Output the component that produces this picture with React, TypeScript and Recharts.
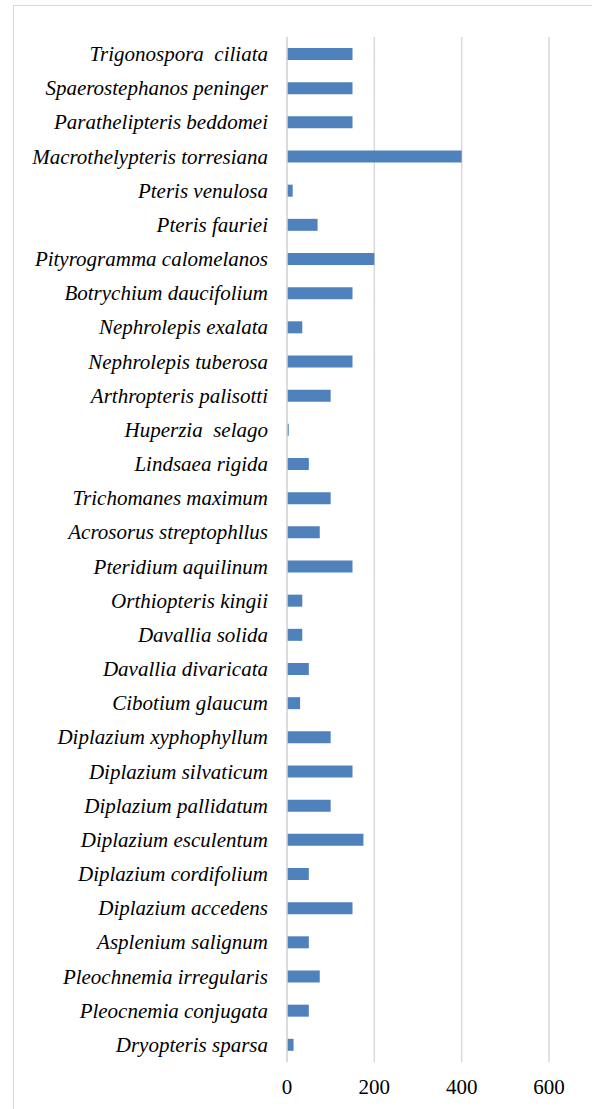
import React from "react";
import { BarChart, Bar, XAxis, YAxis, CartesianGrid } from "recharts";

const species = [
  "Trigonospora  ciliata",
  "Spaerostephanos peninger",
  "Parathelipteris beddomei",
  "Macrothelypteris torresiana",
  "Pteris venulosa",
  "Pteris fauriei",
  "Pityrogramma calomelanos",
  "Botrychium daucifolium",
  "Nephrolepis exalata",
  "Nephrolepis tuberosa",
  "Arthropteris palisotti",
  "Huperzia  selago",
  "Lindsaea rigida",
  "Trichomanes maximum",
  "Acrosorus streptophllus",
  "Pteridium aquilinum",
  "Orthiopteris kingii",
  "Davallia solida",
  "Davallia divaricata",
  "Cibotium glaucum",
  "Diplazium xyphophyllum",
  "Diplazium silvaticum",
  "Diplazium pallidatum",
  "Diplazium esculentum",
  "Diplazium cordifolium",
  "Diplazium accedens",
  "Asplenium salignum",
  "Pleochnemia irregularis",
  "Pleocnemia conjugata",
  "Dryopteris sparsa",
];

const counts = [
  150, 150, 150, 400, 13, 70, 200, 150, 35, 150,
  100, 4, 50, 100, 75, 150, 35, 35, 50, 30,
  100, 150, 100, 175, 50, 150, 50, 75, 50, 15,
];

const xTicks = [0, 200, 400, 600];

const data = species.map((name, i) => ({ name, value: counts[i] }));

const font = "Liberation Serif";

// keeps double spaces in the names, like the source figure
const SpeciesTick = (props: any) => {
  const { x, y, payload } = props;
  return (
    <text
      x={x}
      y={y}
      textAnchor="end"
      dominantBaseline="central"
      fill="#000"
      fontSize={21}
      fontStyle="italic"
      fontFamily={font}
      style={{ whiteSpace: "pre" }}
    >
      {payload.value}
    </text>
  );
};

const ValueTick = (props: any) => {
  const { x, y, payload } = props;
  return (
    <text x={x} y={y} textAnchor="middle" dominantBaseline="central" fill="#000" fontSize={21} fontFamily={font}>
      {payload.value}
    </text>
  );
};

export default function App() {
  return (
    <div
      style={{
        position: "absolute",
        left: 0,
        top: 0,
        width: 592,
        height: 1109,
        overflow: "hidden",
        background: "#fff",
        fontFamily: font,
      }}
    >
      <div
        style={{
          position: "absolute",
          left: 13,
          top: 5,
          width: 620,
          height: 1150,
          border: "1px solid #d9d9d9",
        }}
      />
      <BarChart
        width={592}
        height={1109}
        data={data}
        layout="vertical"
        margin={{ top: 37, right: 43, bottom: 17, left: 0 }}
        style={{ position: "absolute", left: 0, top: 0 }}
      >
        <CartesianGrid horizontal={false} stroke="#d9d9d9" strokeWidth={1.5} />
        <XAxis
          type="number"
          domain={[0, 600]}
          ticks={xTicks}
          height={30}
          axisLine={false}
          tickLine={false}
          tickSize={0}
          tickMargin={25}
          tick={<ValueTick />}
        />
        <YAxis
          type="category"
          dataKey="name"
          width={287}
          axisLine={{ stroke: "#d9d9d9", strokeWidth: 1.5 }}
          tickLine={false}
          tickSize={0}
          tickMargin={19}
          interval={0}
          tick={<SpeciesTick />}
        />
        <Bar dataKey="value" fill="#4f81bd" barSize={12} isAnimationActive={false} />
      </BarChart>
    </div>
  );
}
